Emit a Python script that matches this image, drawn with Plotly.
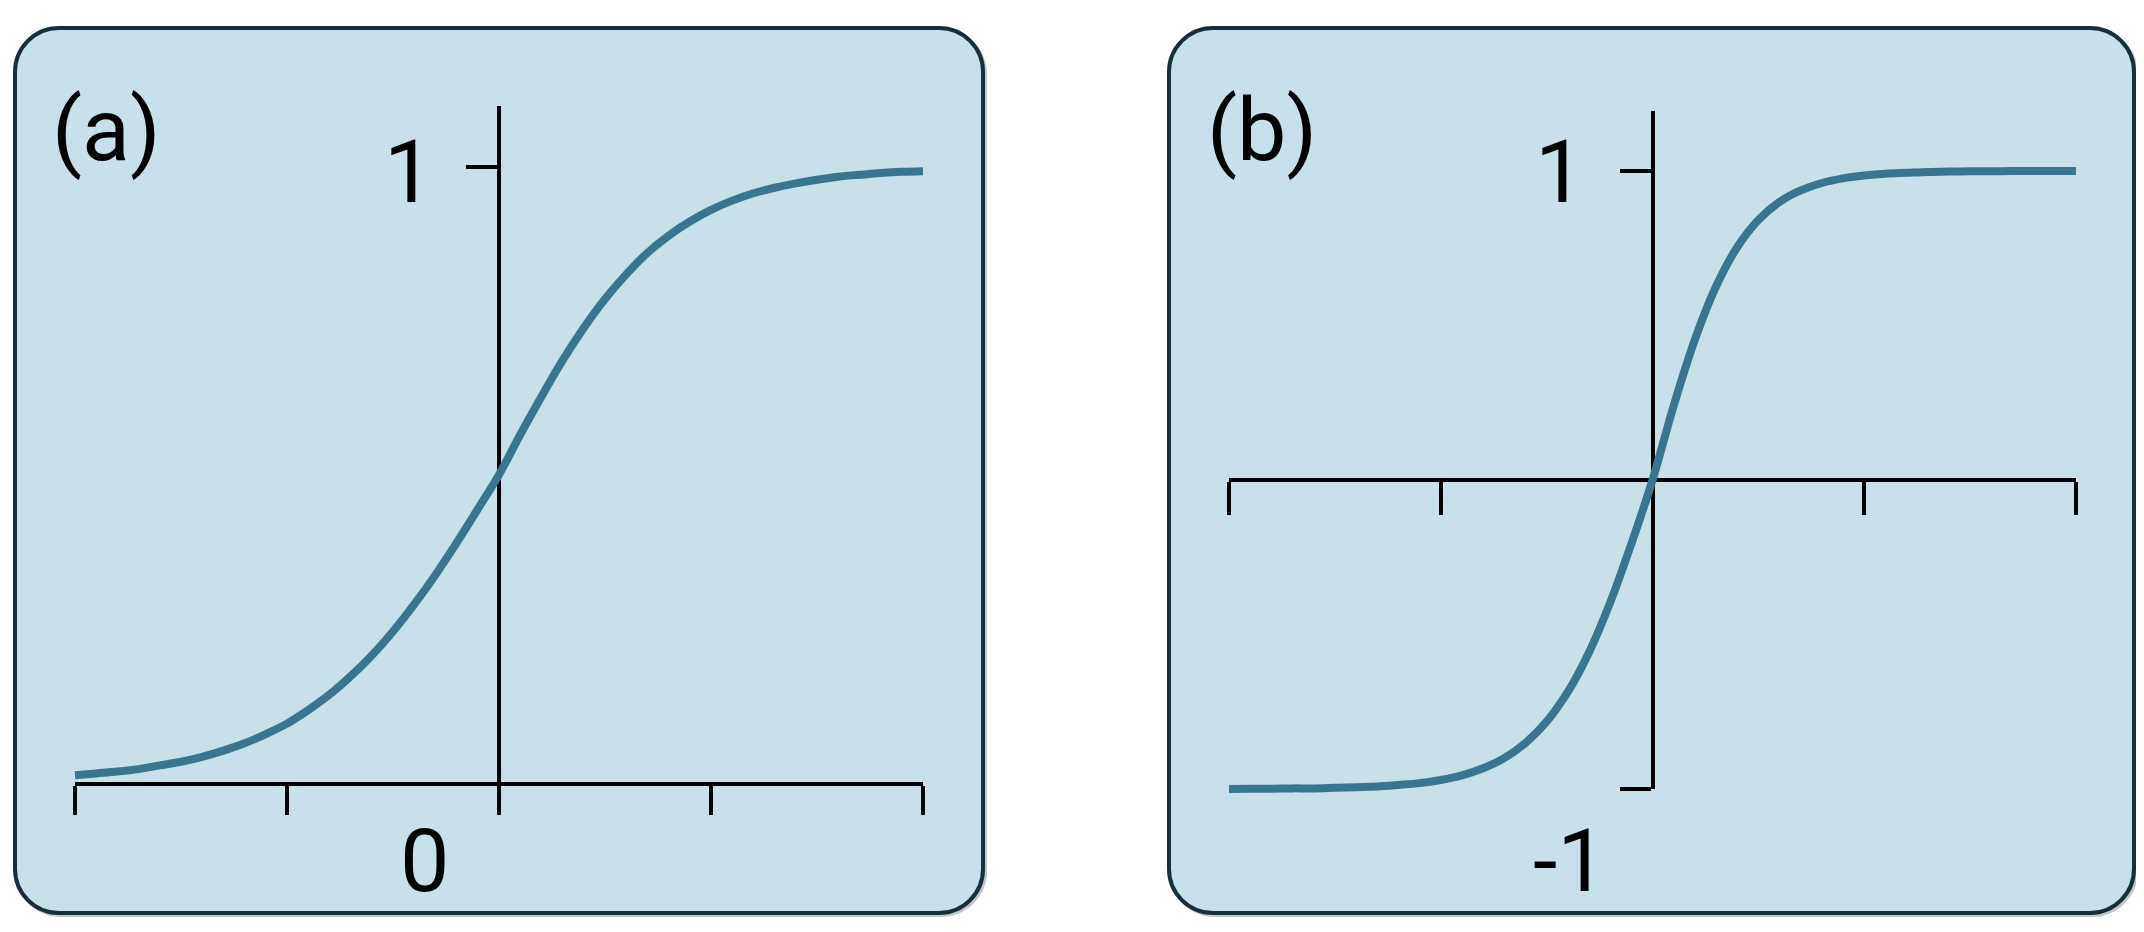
import plotly.graph_objects as go

# positions along each curve, in units of the x tick spacing
x_units = [-2.0, -1.9, -1.8, -1.7, -1.6, -1.5, -1.4, -1.3, -1.2, -1.1, -1.0,
           -0.9, -0.8, -0.7, -0.6, -0.5, -0.4, -0.3, -0.2, -0.1, 0.0,
           0.1, 0.2, 0.3, 0.4, 0.5, 0.6, 0.7, 0.8, 0.9, 1.0,
           1.1, 1.2, 1.3, 1.4, 1.5, 1.6, 1.7, 1.8, 1.9, 2.0]

# panel (a): logistic curve, 0 .. 1
logistic_y = [0.011, 0.014, 0.017, 0.021, 0.027, 0.033, 0.041, 0.051, 0.063, 0.078, 0.095,
              0.117, 0.142, 0.172, 0.206, 0.245, 0.289, 0.337, 0.389, 0.444, 0.500,
              0.565, 0.627, 0.686, 0.739, 0.786, 0.826, 0.861, 0.889, 0.912, 0.931,
              0.946, 0.958, 0.967, 0.974, 0.980, 0.985, 0.988, 0.991, 0.993, 0.994]

# panel (b): tanh curve, -1 .. 1
tanh_y = [-0.9996, -0.9993, -0.999, -0.998, -0.998, -0.996, -0.994, -0.992, -0.987, -0.981, -0.971,
          -0.956, -0.933, -0.900, -0.851, -0.782, -0.686, -0.558, -0.397, -0.207, 0.0,
          0.240, 0.454, 0.626, 0.753, 0.841, 0.900, 0.937, 0.961, 0.976, 0.985,
          0.991, 0.994, 0.997, 0.998, 0.999, 0.999, 0.9995, 0.9997, 0.9998, 0.9999]

x_ticks = [-2, -1, 0, 1, 2]
a_yticks = [1]
b_yticks = [-1, 1]

# the page body has an 8px margin, so the figure is 16px smaller than the window
PAGE_W, PAGE_H = 2144, 932
M = 8
W, H = PAGE_W - 2 * M, PAGE_H - 2 * M
CURVE = "#3a7590"
FILL = "#c8e0e9"
EDGE = "#172f3b"
FONT = "Roboto, Arial, sans-serif"
FS = 88


def px(x):
    return (x - M) / W


def py(y):
    return 1 - (y - M) / H


# plot areas in window pixels (left, right, top, bottom) and their y ranges
A = dict(l=75, r=923, t=106, b=782, yr=[0.0, 1.10])
B = dict(l=1229, r=2076, t=111, b=789, yr=[-1.0, 1.194])
PAD = 12  # extra room so the curves are not clipped at the plot edge


def padded(p):
    xs = 4.0 / (p["r"] - p["l"])
    ys = (p["yr"][1] - p["yr"][0]) / (p["b"] - p["t"])
    xd = [px(p["l"] - PAD), px(p["r"] + PAD)]
    yd = [py(p["b"] + PAD), py(p["t"] - PAD)]
    xr = [-2 - PAD * xs, 2 + PAD * xs]
    yr = [p["yr"][0] - PAD * ys, p["yr"][1] + PAD * ys]
    return xd, yd, xr, yr


def rounded(x0, y0, x1, y1, r):
    k = 0.448 * r  # distance of bezier handles from the corner
    return (f"M {px(x0 + r)},{py(y0)} L {px(x1 - r)},{py(y0)} "
            f"C {px(x1 - k)},{py(y0)} {px(x1)},{py(y0 + k)} {px(x1)},{py(y0 + r)} "
            f"L {px(x1)},{py(y1 - r)} "
            f"C {px(x1)},{py(y1 - k)} {px(x1 - k)},{py(y1)} {px(x1 - r)},{py(y1)} "
            f"L {px(x0 + r)},{py(y1)} "
            f"C {px(x0 + k)},{py(y1)} {px(x0)},{py(y1 - k)} {px(x0)},{py(y1 - r)} "
            f"L {px(x0)},{py(y0 + r)} "
            f"C {px(x0)},{py(y0 + k)} {px(x0 + k)},{py(y0)} {px(x0 + r)},{py(y0)} Z")


fig = go.Figure()

# empty traces so the visible axes get drawn
fig.add_trace(go.Scatter(x=[], y=[], xaxis="x", yaxis="y", showlegend=False))
fig.add_trace(go.Scatter(x=[], y=[], xaxis="x2", yaxis="y2", showlegend=False))

fig.add_trace(go.Scatter(x=x_units, y=logistic_y, mode="lines", xaxis="x3", yaxis="y3",
                         line=dict(color=CURVE, width=8, shape="spline"),
                         showlegend=False, hoverinfo="skip"))
fig.add_trace(go.Scatter(x=x_units, y=tanh_y, mode="lines", xaxis="x4", yaxis="y4",
                         line=dict(color=CURVE, width=8, shape="spline"),
                         showlegend=False, hoverinfo="skip"))

axis_common = dict(showgrid=False, zeroline=False, showline=True, linecolor="black",
                   linewidth=3.5, ticks="outside", tickcolor="black", tickwidth=3.5,
                   showticklabels=False, fixedrange=True)
hidden = dict(visible=False, showgrid=False, zeroline=False, fixedrange=True)

xa3, ya3, xr3, yr3 = padded(A)
xa4, ya4, xr4, yr4 = padded(B)

# y=0 level in panel (b), as a paper fraction
b_zero = py(B["b"] - (0 - B["yr"][0]) / (B["yr"][1] - B["yr"][0]) * (B["b"] - B["t"]))

fig.update_layout(
    width=W, height=H, autosize=False,
    margin=dict(l=0, r=0, t=0, b=0),
    paper_bgcolor="white", plot_bgcolor="rgba(0,0,0,0)",
    showlegend=False,
    xaxis=dict(axis_common, domain=[px(A["l"]), px(A["r"])], range=[-2, 2],
               anchor="y", tickvals=x_ticks, ticklen=29),
    yaxis=dict(axis_common, domain=[py(A["b"]), py(A["t"])], range=A["yr"],
               anchor="free", position=px((A["l"] + A["r"]) / 2),
               tickvals=a_yticks, ticklen=31),
    xaxis2=dict(axis_common, domain=[px(B["l"]), px(B["r"])], range=[-2, 2],
                anchor="free", position=b_zero, tickvals=x_ticks, ticklen=33),
    yaxis2=dict(axis_common, domain=[py(B["b"]), py(B["t"])], range=B["yr"],
                anchor="free", position=px((B["l"] + B["r"]) / 2),
                tickvals=b_yticks, ticklen=31),
    xaxis3=dict(hidden, domain=xa3, range=xr3, anchor="y3"),
    yaxis3=dict(hidden, domain=ya3, range=yr3, anchor="x3"),
    xaxis4=dict(hidden, domain=xa4, range=xr4, anchor="y4"),
    yaxis4=dict(hidden, domain=ya4, range=yr4, anchor="x4"),
)

# rounded panel boxes with a faint drop shadow
for x0, x1 in [(15, 983), (1169, 2134)]:
    fig.add_shape(type="path", xref="paper", yref="paper", layer="below",
                  path=rounded(x0 + 2, 30, x1 + 2, 915, 44), fillcolor="rgba(0,0,0,0)",
                  line=dict(color="rgba(90,90,90,0.35)", width=4))
    fig.add_shape(type="path", xref="paper", yref="paper", layer="below",
                  path=rounded(x0, 28, x1, 913, 44), fillcolor=FILL,
                  line=dict(color=EDGE, width=4))

labels = [
    ("(a)", 106, 129),
    ("(b)", 1262, 129),
    ("1", 408, 171),
    ("0", 424, 860),
    ("1", 1559, 171),
    ("-1", 1570, 860),
]
for txt, x, y in labels:
    fig.add_annotation(text=txt, x=px(x), y=py(y), xref="paper", yref="paper",
                       xanchor="center", yanchor="middle", showarrow=False,
                       font=dict(family=FONT, size=FS, color="black"))

fig.write_html("out.html")
